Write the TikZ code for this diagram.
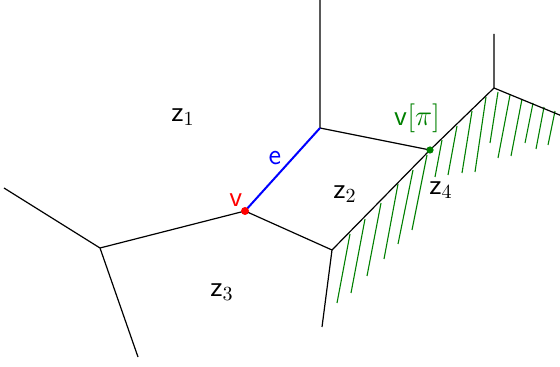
\documentclass[tikz,border=0pt]{standalone}
\usepackage{amsmath}
\definecolor{hatchgreen}{RGB}{0,128,0}
\begin{document}
\begin{tikzpicture}[x=0.5pt,y=-0.5pt,
  edge/.style={black,line width=0.6pt},
  hatch/.style={hatchgreen,line width=0.55pt},
  lbl/.style={font=\Large,inner sep=0pt}]
  \useasboundingbox (0,0) rectangle (560,367);
  % vertices and free ends
  \coordinate (A) at (100,248);
  \coordinate (v) at (245,211);
  \coordinate (B) at (320,128);
  \coordinate (C) at (332,250);
  \coordinate (vpi) at (430,150);
  \coordinate (D) at (494,88);
  \coordinate (endL) at (4,188);
  \coordinate (endA) at (138,357);
  \coordinate (endB) at (320,0);
  \coordinate (endC) at (322,327);
  \coordinate (endD) at (494,34);
  \coordinate (endR) at (562,116);
  % hatching below the boundary
  \foreach \sx/\sy/\ex/\ey in {350/234/337/303, 365/219/351/293, 381/203/367/276,
      398/184/384/259, 413/170/398/244, 427/155/412/230, 442/140/435/177,
      457/126/448/175, 472/111/462/173, 486/97/475/172, 498/92/490/143,
      510/95/498/158, 522/99/511/156, 533/103/525/143, 544/107/536/149,
      555/111/548/145}
    \draw[hatch] (\sx,\sy) -- (\ex,\ey);
  % edges
  \draw[edge] (endL) -- (A) -- (endA);
  \draw[edge] (A) -- (v) -- (C) -- (endC);
  \draw[edge] (endB) -- (B) -- (vpi);
  \draw[edge] (C) -- (vpi) -- (D) -- (endD);
  \draw[edge] (D) -- (endR);
  \draw[blue,line width=1pt] (v) -- (B);
  \fill[red] (v) circle (2pt);
  \fill[hatchgreen] (vpi) circle (1.8pt);
  % labels
  \node[lbl] (z1) at (183,117) {$\mathsf{z}_1$};
  \node[lbl] (z2) at (345,194) {$\mathsf{z}_2$};
  \node[lbl] (z3) at (222,292) {$\mathsf{z}_3$};
  \node[lbl] (z4) at (441,190) {$\mathsf{z}_4$};
  \node[lbl,blue] (le) at (275,158) {$\mathsf{e}$};
  \node[lbl,red] (lv) at (236,200) {$\mathsf{v}$};
  \node[lbl,hatchgreen] (lvpi) at (417,118) {$\mathsf{v}[\pi]$};
\end{tikzpicture}
\end{document}
